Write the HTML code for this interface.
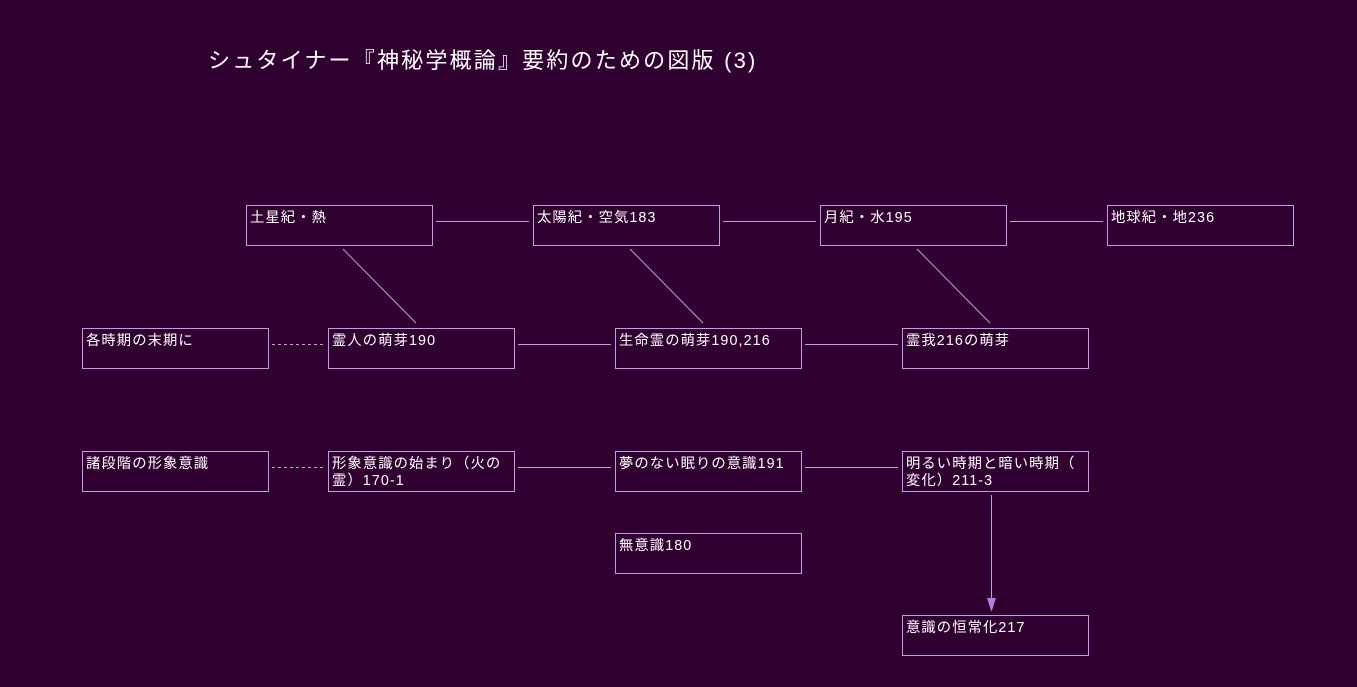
<!DOCTYPE html>
<html><head><meta charset="utf-8">
<style>
html,body{margin:0;padding:0;}
body{width:1357px;height:687px;background:#300030;position:relative;overflow:hidden;font-family:"Liberation Sans","Noto Sans CJK JP",sans-serif;}
.t{position:absolute;left:208px;top:46px;font-size:22px;line-height:30px;color:#fff;white-space:nowrap;letter-spacing:2.2px;}
.b{position:absolute;box-sizing:border-box;width:187px;height:41px;border:1px solid #c898e8;color:#fff;font-size:14.3px;line-height:17px;padding:4px 0 0 3px;white-space:nowrap;letter-spacing:1.1px;}
svg{position:absolute;left:0;top:0;}
</style></head><body>
<div class="t">シュタイナー『神秘学概論』要約のための図版 (3)</div>

<svg width="1357" height="687" viewBox="0 0 1357 687">
<g stroke="#c898e8" stroke-width="1" fill="none">
<line x1="436" y1="221.5" x2="529" y2="221.5"/>
<line x1="723" y1="221.5" x2="816" y2="221.5"/>
<line x1="1010" y1="221.5" x2="1103" y2="221.5"/>
<line x1="343" y1="249" x2="416" y2="323"/>
<line x1="630" y1="249" x2="703" y2="323"/>
<line x1="917" y1="249" x2="990" y2="323"/>
<line x1="272" y1="344.5" x2="324" y2="344.5" stroke-dasharray="3,3"/>
<line x1="518" y1="344.5" x2="611" y2="344.5"/>
<line x1="805" y1="344.5" x2="898" y2="344.5"/>
<line x1="272" y1="467.5" x2="324" y2="467.5" stroke-dasharray="3,3"/>
<line x1="518" y1="467.5" x2="611" y2="467.5"/>
<line x1="805" y1="467.5" x2="898" y2="467.5"/>
<line x1="991.5" y1="495" x2="991.5" y2="600"/>
</g>
<polygon points="987,598 996,598 991.5,612" fill="#b080e0"/>
</svg>

<div class="b" style="left:246px;top:205px;">土星紀・熱</div>
<div class="b" style="left:533px;top:205px;">太陽紀・空気183</div>
<div class="b" style="left:820px;top:205px;">月紀・水195</div>
<div class="b" style="left:1107px;top:205px;">地球紀・地236</div>

<div class="b" style="left:82px;top:328px;">各時期の末期に</div>
<div class="b" style="left:328px;top:328px;">霊人の萌芽190</div>
<div class="b" style="left:615px;top:328px;">生命霊の萌芽190,216</div>
<div class="b" style="left:902px;top:328px;">霊我216の萌芽</div>

<div class="b" style="left:82px;top:451px;">諸段階の形象意識</div>
<div class="b" style="left:328px;top:451px;">形象意識の始まり（火の<br>霊）170-1</div>
<div class="b" style="left:615px;top:451px;">夢のない眠りの意識191</div>
<div class="b" style="left:902px;top:451px;">明るい時期と暗い時期（<br>変化）211-3</div>

<div class="b" style="left:615px;top:533px;">無意識180</div>
<div class="b" style="left:902px;top:615px;">意識の恒常化217</div>
</body></html>
